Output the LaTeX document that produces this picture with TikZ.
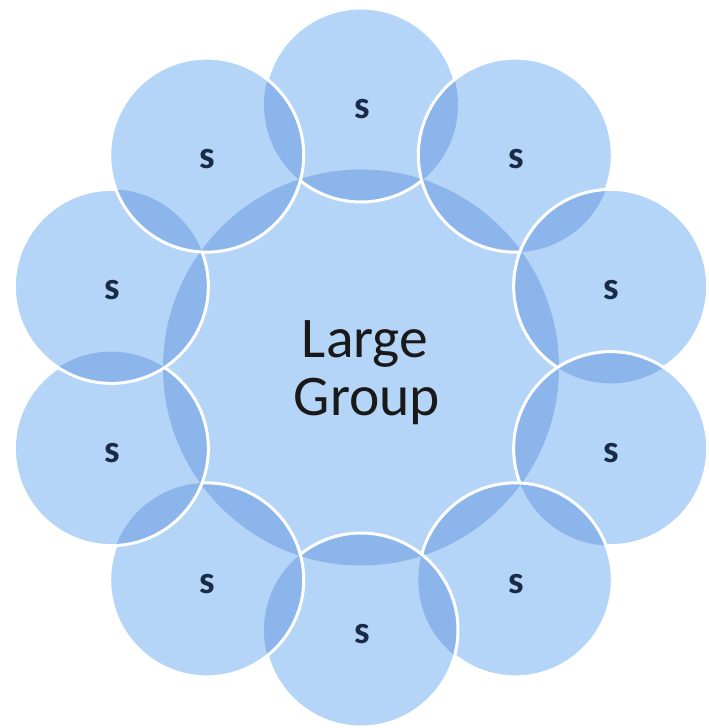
\documentclass[tikz,border=0pt]{standalone}
\usepackage{fontspec}
\setmainfont{Carlito}
\usetikzlibrary{calc}
\definecolor{lightb}{HTML}{B4D5F8}
\definecolor{darkb}{HTML}{8BB5EB}
\definecolor{navy}{HTML}{1B2A47}
\tikzset{
  satfill/.style={fill=lightb},
  lensfill/.style={fill=darkb},
  rim/.style={draw=white, line width=3},
  lbl/.style={font=\bfseries\fontsize{39}{39}\selectfont, text=navy},
  biglbl/.style={anchor=base, inner sep=0, font=\fontsize{57.5}{58}\selectfont, text=black!90}
}
\begin{document}
\begin{tikzpicture}[x=1pt,y=-1pt]
\useasboundingbox (0,0) rectangle (709,728);
\coordinate (C) at (361,367.5);
\foreach \i in {0,...,9}
  \coordinate (c\i) at ({361+262.5*cos(90-36*\i)},{367.5-262.5*sin(90-36*\i)});
\fill[lightb] (C) circle[radius=198];
\foreach \i [evaluate=\i as \p using {int(mod(\i+9,10))}] in {0,...,9} {
  \path[satfill] (c\i) circle[radius=97];
  \begin{scope}
    \clip (c\i) circle[radius=97];
    \path[lensfill] (C) circle[radius=198];
    \ifnum\i>0 \path[lensfill] (c\p) circle[radius=97];\fi
    \ifnum\i=9 \path[lensfill] (c0) circle[radius=97];\fi
  \end{scope}
  \path[rim] (c\i) circle[radius=97];
}
\foreach \i in {0,...,9}
  \node[lbl] (s\i) at ($(c\i)+(1,4)$) {s};
\node[biglbl] (big1) at (365,357) {Large};
\node[biglbl] (big2) at (367,415) {Group};
\end{tikzpicture}
\end{document}
